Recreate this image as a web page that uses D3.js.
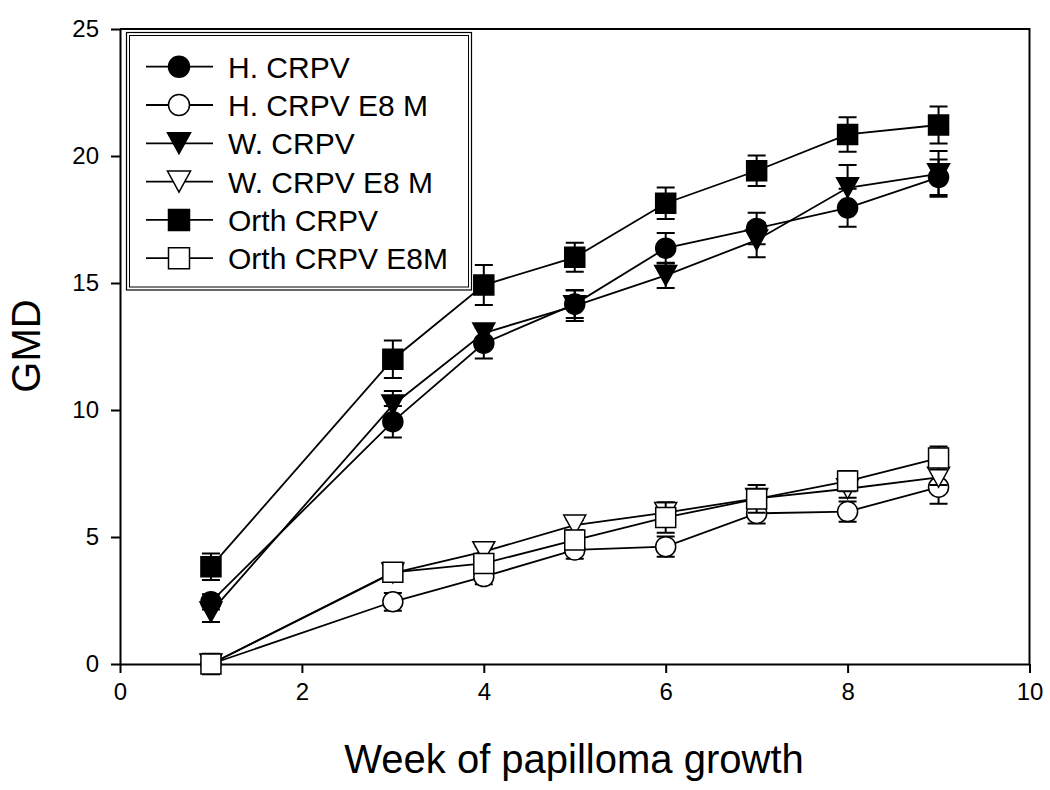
<!DOCTYPE html>
<html>
<head>
<meta charset="utf-8">
<script src="https://cdn.jsdelivr.net/npm/d3@7"></script>
<style>
  html, body { margin: 0; padding: 0; background: #fff; }
  svg text { font-family: "Liberation Sans", Arial, sans-serif; fill: #000; }
</style>
</head>
<body>
<svg id="chart" width="1050" height="790"></svg>
<script>
// ---- data ----
const weeks = [1, 3, 4, 5, 6, 7, 8, 9];
const seriesNames = ["H. CRPV", "H. CRPV E8 M", "W. CRPV", "W. CRPV E8 M", "Orth CRPV", "Orth CRPV E8M"];
const hCRPV      = [2.45, 9.54, 12.63, 14.17, 16.37, 17.15, 17.96, 19.16];
const hCRPVerr   = [0.30, 0.62, 0.60, 0.55, 0.60, 0.62, 0.75, 0.70];
const hE8M       = [0.0, 2.45, 3.44, 4.49, 4.62, 5.93, 6.00, 6.96];
const hE8Merr    = [0.2, 0.35, 0.30, 0.35, 0.40, 0.40, 0.40, 0.65];
const wCRPV      = [2.05, 10.2, 13.03, 14.1, 15.3, 16.69, 18.75, 19.3];
const wCRPVerr   = [0.40, 0.55, 0.35, 0.60, 0.50, 0.68, 0.90, 0.90];
const wE8M       = [0.0, 3.58, 4.42, 5.47, 5.96, 6.52, 6.90, 7.35];
const wE8Merr    = [0.2, 0.25, 0.20, 0.20, 0.30, 0.30, 0.35, 0.30];
const orthCRPV   = [3.83, 12.0, 14.92, 16.01, 18.14, 19.42, 20.85, 21.22];
const orthCRPVerr= [0.52, 0.74, 0.79, 0.57, 0.62, 0.60, 0.68, 0.73];
const orthE8M    = [0.0, 3.61, 3.96, 4.88, 5.77, 6.50, 7.20, 8.11];
const orthE8Merr = [0.40, 0.20, 0.25, 0.30, 0.60, 0.55, 0.40, 0.45];
const xTicks = [0, 2, 4, 6, 8, 10];
const yTicks = [0, 5, 10, 15, 20, 25];
const xTitle = "Week of papilloma growth";
const yTitle = "GMD";

const seriesValues = [hCRPV, hE8M, wCRPV, wE8M, orthCRPV, orthE8M];
const seriesErrors = [hCRPVerr, hE8Merr, wCRPVerr, wE8Merr, orthCRPVerr, orthE8Merr];
const seriesShape = ["circle", "circle", "triangle", "triangle", "square", "square"];
const seriesFilled = [true, false, true, false, true, false];

// ---- layout ----
const svg = d3.select("#chart");
const mLeft = 120, mRight = 1029.5, mTop = 29, mBottom = 664;
const x = d3.scaleLinear().domain([0, 10]).range([mLeft, mRight]);
const y = d3.scaleLinear().domain([0, 25]).range([mBottom, mTop]);

function markerPath(shape, s) {
  if (shape === "circle") {
    const r = s / 2;
    return `M${-r},0A${r},${r} 0 1,0 ${r},0A${r},${r} 0 1,0 ${-r},0Z`;
  }
  if (shape === "square") {
    const h = s / 2;
    return `M${-h},${-h}H${h}V${h}H${-h}Z`;
  }
  const w = s * 1.1 / 2, h = s / 2;
  return `M${-w},${-h}L${w},${-h}L0,${h}Z`;
}

// frame (top and right lines)
svg.append("path")
  .attr("d", `M${mLeft},${mTop}H${mRight}V${mBottom}`)
  .attr("fill", "none").attr("stroke", "#000").attr("stroke-width", 2);

// axes
const xAxis = svg.append("g").attr("transform", `translate(0,${mBottom})`)
  .call(d3.axisBottom(x).tickValues(xTicks).tickSize(9).tickSizeOuter(0).tickPadding(10).tickFormat(d3.format("d")));
const yAxis = svg.append("g").attr("transform", `translate(${mLeft},0)`)
  .call(d3.axisLeft(y).tickValues(yTicks).tickSize(9).tickSizeOuter(0).tickPadding(12).tickFormat(d3.format("d")));
[xAxis, yAxis].forEach(g => {
  g.select(".domain").attr("stroke", "#000").attr("stroke-width", 2);
  g.selectAll(".tick line").attr("stroke", "#000").attr("stroke-width", 2);
  g.selectAll(".tick text").attr("font-size", 24).attr("font-family", "Liberation Sans, Arial, sans-serif").attr("fill", "#000");
});
xAxis.selectAll(".tick text").attr("dy", "0.71em");

// titles
svg.append("text").attr("x", 574).attr("y", 773).attr("text-anchor", "middle")
  .attr("font-size", 40).text(xTitle);
svg.append("text").attr("transform", "translate(40,346) rotate(-90)").attr("text-anchor", "middle")
  .attr("font-size", 40).text(yTitle);

// series
const line = d3.line().x(d => x(d.w)).y(d => y(d.v));
const capHalf = 9;
seriesValues.forEach((vals, si) => {
  const pts = weeks.map((w, i) => ({ w, v: vals[i], e: seriesErrors[si][i] }));
  const g = svg.append("g");
  g.append("path").attr("d", line(pts)).attr("fill", "none")
    .attr("stroke", "#000").attr("stroke-width", 1.8);
  const eb = g.selectAll(".eb").data(pts).enter().append("g");
  eb.append("path")
    .attr("d", d => {
      const cx = x(d.w), y1 = y(d.v + d.e), y2 = y(d.v - d.e);
      return `M${cx},${y1}V${y2}M${cx - capHalf},${y1}H${cx + capHalf}M${cx - capHalf},${y2}H${cx + capHalf}`;
    })
    .attr("fill", "none").attr("stroke", "#000").attr("stroke-width", 2);
  g.selectAll(".mk").data(pts).enter().append("path")
    .attr("transform", d => `translate(${x(d.w)},${y(d.v)})`)
    .attr("d", markerPath(seriesShape[si], 20))
    .attr("fill", seriesFilled[si] ? "#000" : "#fff")
    .attr("stroke", "#000").attr("stroke-width", 1.5);
});

// legend
const lg = svg.append("g");
lg.append("rect").attr("x", 126.5).attr("y", 32.5).attr("width", 345).attr("height", 257.5)
  .attr("fill", "#fff").attr("stroke", "#000").attr("stroke-width", 1.2);
lg.append("rect").attr("x", 129.5).attr("y", 35.5).attr("width", 339).attr("height", 251.5)
  .attr("fill", "none").attr("stroke", "#000").attr("stroke-width", 1);
seriesNames.forEach((name, i) => {
  const cy = 66.7 + i * 38.3;
  lg.append("line").attr("x1", 146).attr("x2", 213).attr("y1", cy).attr("y2", cy)
    .attr("stroke", "#000").attr("stroke-width", 1.8);
  lg.append("path").attr("transform", `translate(179,${cy})`)
    .attr("d", markerPath(seriesShape[i], 21))
    .attr("fill", seriesFilled[i] ? "#000" : "#fff")
    .attr("stroke", "#000").attr("stroke-width", 1.5);
  lg.append("text").attr("x", 228).attr("y", cy + 11).attr("font-size", 30).text(name);
});
</script>
</body>
</html>
